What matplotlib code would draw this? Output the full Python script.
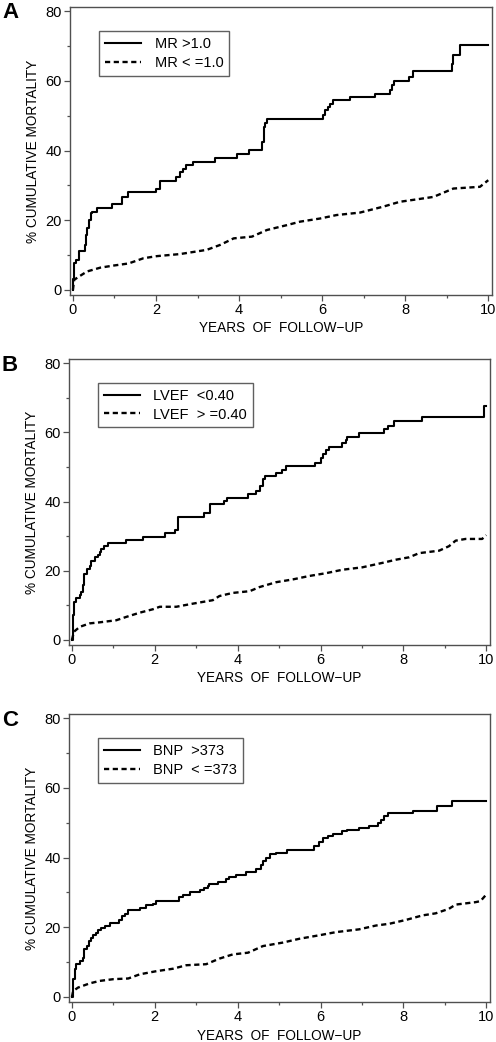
import matplotlib
matplotlib.use("Agg")
import matplotlib.pyplot as plt

plt.rcParams['font.family'] = ['Liberation Sans', 'DejaVu Sans']

## Panel A: mitral regurgitation
a_hi_t = [0, 0.01, 0.03, 0.08, 0.14, 0.15, 0.30, 0.32, 0.35, 0.39, 0.43, 0.46, 0.58, 0.94, 1.18,
          1.32, 2.00, 2.10, 2.48, 2.58, 2.65, 2.73, 2.89, 3.41, 3.95, 4.25, 4.55, 4.59, 4.63,
          4.67, 6.03, 6.07, 6.13, 6.19, 6.25, 6.67, 7.27, 7.63, 7.69, 7.72, 8.08, 8.20, 9.12,
          9.16, 9.32, 10.0]
a_hi_y = [0, 3.0, 7.6, 8.6, 9.8, 11.3, 12.9, 15.8, 17.7, 20.0, 22.0, 22.4, 23.4, 24.6, 26.7,
          28.0, 29.1, 31.2, 32.5, 33.9, 34.8, 35.8, 36.8, 37.9, 39.0, 40.1, 42.5, 46.8, 47.9,
          49.0, 50.1, 51.6, 52.5, 53.3, 54.4, 55.4, 56.3, 57.5, 58.7, 59.9, 61.1, 62.8, 64.9,
          67.3, 70.4, 70.4]
a_lo_t = [0, 0.03, 0.14, 0.34, 0.66, 0.98, 1.34, 1.70, 2.02, 2.58, 3.22, 3.54, 3.87, 4.31, 4.67,
          5.15, 5.47, 5.95, 6.35, 6.91, 7.47, 7.87, 8.28, 8.68, 9.16, 9.80, 10.0]
a_lo_y = [0, 2.9, 3.8, 5.3, 6.4, 7.0, 7.6, 9.1, 9.7, 10.3, 11.5, 12.9, 14.8, 15.3, 17.2,
          18.6, 19.6, 20.5, 21.5, 22.2, 23.9, 25.3, 26.0, 26.7, 29.1, 29.6, 31.5]

## Panel B: ejection fraction
b_hi_t = [0, 0.016, 0.048, 0.096, 0.19, 0.23, 0.27, 0.30, 0.37, 0.43, 0.47, 0.55, 0.63, 0.67,
          0.71, 0.77, 0.87, 1.30, 1.72, 2.24, 2.48, 2.56, 3.18, 3.34, 3.68, 3.74, 4.25, 4.45,
          4.53, 4.61, 4.65, 4.93, 5.07, 5.17, 5.87, 6.01, 6.07, 6.13, 6.21, 6.53, 6.61, 6.65,
          6.93, 7.54, 7.62, 7.78, 8.46, 9.94, 10.0]
b_hi_y = [0, 7.2, 11.0, 12.0, 12.9, 13.9, 15.8, 19.1, 20.6, 21.5, 22.9, 23.9, 24.6, 25.3,
          26.3, 27.1, 28.0, 29.0, 29.9, 30.9, 31.8, 35.4, 36.6, 39.2, 40.2, 40.9, 42.1, 43.0,
          44.5, 46.4, 47.3, 48.3, 49.2, 50.2, 51.1, 52.6, 53.8, 55.0, 55.9, 56.9, 57.8, 58.8,
          59.9, 60.9, 61.9, 63.3, 64.3, 67.6, 67.6]
b_lo_t = [0, 0.05, 0.19, 0.43, 0.67, 1.07, 1.32, 1.64, 1.96, 2.12, 2.52, 2.92, 3.40, 3.56, 3.88,
          4.29, 4.53, 4.93, 5.33, 5.73, 6.13, 6.53, 7.01, 7.50, 7.82, 8.14, 8.38, 8.86, 9.10,
          9.26, 9.50, 9.90, 10.0]
b_lo_y = [0, 2.4, 3.8, 4.8, 5.1, 5.7, 6.7, 7.9, 8.9, 9.6, 9.6, 10.5, 11.5, 12.7, 13.6,
          14.1, 15.3, 16.7, 17.5, 18.5, 19.3, 20.3, 21.0, 22.3, 23.2, 23.9, 25.1, 25.8, 27.1,
          28.7, 29.2, 29.2, 30.3]

## Panel C: BNP
c_hi_t = [0, 0.03, 0.07, 0.11, 0.19, 0.26, 0.30, 0.37, 0.41, 0.45, 0.50, 0.59, 0.63, 0.71, 0.79,
          0.91, 1.14, 1.20, 1.28, 1.36, 1.64, 1.80, 1.96, 2.04, 2.58, 2.68, 2.84, 3.08, 3.18,
          3.28, 3.32, 3.52, 3.72, 3.80, 3.96, 4.21, 4.45, 4.57, 4.61, 4.69, 4.77, 4.93, 5.18,
          5.85, 5.97, 6.05, 6.17, 6.29, 6.52, 6.65, 6.93, 7.17, 7.38, 7.46, 7.54, 7.64, 8.22,
          8.82, 9.18, 10.0]
c_hi_y = [0, 5.1, 7.9, 9.4, 10.3, 11.3, 13.7, 14.6, 16.0, 17.0, 17.7, 18.4, 19.2, 19.9, 20.3,
          21.1, 22.1, 23.2, 23.7, 24.9, 25.6, 26.3, 26.8, 27.5, 28.7, 29.4, 30.1, 30.6, 31.3,
          31.8, 32.3, 32.9, 33.9, 34.5, 35.1, 35.8, 36.6, 38.0, 38.9, 39.9, 40.9, 41.3, 42.3,
          43.4, 44.4, 45.6, 46.3, 46.9, 47.5, 48.0, 48.5, 49.0, 49.9, 50.9, 51.8, 52.8, 53.5,
          54.7, 56.3, 56.3]
c_lo_t = [0, 0.03, 0.15, 0.43, 0.67, 1.00, 1.36, 1.64, 2.04, 2.44, 2.76, 3.24, 3.56, 3.88, 4.25,
          4.61, 5.09, 5.49, 5.97, 6.37, 6.93, 7.34, 7.66, 8.06, 8.46, 8.78, 9.10, 9.26, 9.74,
          9.86, 10.0]
c_lo_y = [0, 1.7, 2.7, 3.9, 4.6, 5.1, 5.3, 6.5, 7.4, 8.1, 9.1, 9.4, 11.0, 12.2, 12.7,
          14.6, 15.6, 16.7, 17.7, 18.6, 19.4, 20.5, 21.0, 22.1, 23.4, 24.0, 25.3, 26.5, 27.2,
          27.5, 29.4]

panels = [
    ("A", a_hi_t, a_hi_y, a_lo_t, a_lo_y, "MR >1.0", "MR < =1.0"),
    ("B", b_hi_t, b_hi_y, b_lo_t, b_lo_y, "LVEF  <0.40", "LVEF  > =0.40"),
    ("C", c_hi_t, c_hi_y, c_lo_t, c_lo_y, "BNP  >373", "BNP  < =373"),
]

W, H = 496, 1042
# axes boxes in pixels: left, top, right, bottom
boxes = [(70, 7, 492, 295), (69, 359, 490, 645), (69, 714, 490, 1002)]
letter_top = [2, 355, 710]

fig = plt.figure(figsize=(W / 100, H / 100), dpi=100)
frame_col = "#505050"

for (letter, t1, y1, t2, y2, lab1, lab2), (l, t, r, b), ly in zip(panels, boxes, letter_top):
    ax = fig.add_axes([l / W, 1 - b / H, (r - l) / W, (b - t) / H])
    ax.plot(t1, y1, color="black", lw=1.5, drawstyle="steps-post", label=lab1)
    ax.plot(t2, y2, color="black", lw=1.7, dashes=(2.2, 1.5), label=lab2)
    ax.set_xlim(-0.07, 10.09)
    ax.set_ylim(-1.45, 81.2)
    ax.set_xticks(range(0, 11, 2))
    ax.set_xticks(range(1, 10, 2), minor=True)
    ax.set_yticks(range(0, 81, 20))
    ax.set_yticks(range(10, 80, 20), minor=True)
    ax.tick_params(which="major", length=4, width=0.9, color=frame_col, labelsize=10.5, pad=2)
    ax.tick_params(which="minor", length=2.5, width=0.9, color=frame_col)
    for s in ax.spines.values():
        s.set_color(frame_col)
        s.set_linewidth(1.0)
    ax.set_ylabel("% CUMULATIVE MORTALITY", fontsize=9.8, labelpad=4)
    ax.set_xlabel("YEARS  OF  FOLLOW\u2212UP", fontsize=9.8, labelpad=3)
    leg = ax.legend(loc="upper left", bbox_to_anchor=(0.069, 0.915), fontsize=10.5,
                    handlelength=2.5, handletextpad=0.9, labelspacing=0.3,
                    borderpad=0.4, borderaxespad=0, fancybox=False, framealpha=1)
    leg.get_frame().set_edgecolor("#606060")
    leg.get_frame().set_linewidth(1.0)
    fig.text(0.004, 1 - ly / H, letter, fontsize=16, fontweight="bold", va="top", ha="left")

fig.savefig("out.png", dpi=100)
